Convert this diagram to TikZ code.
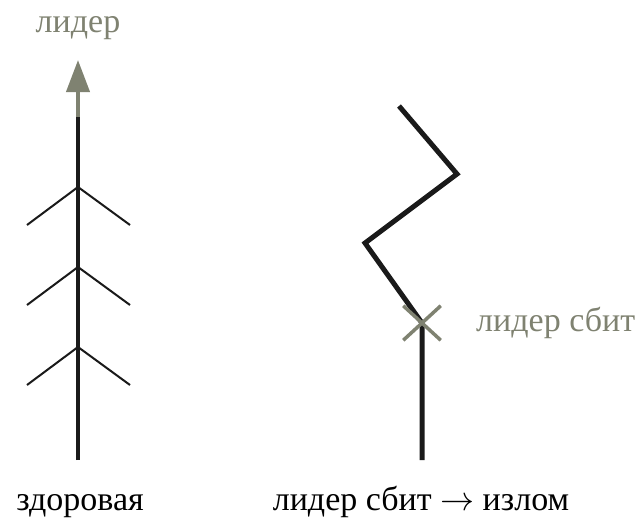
\RequirePackage{fix-cm}
\documentclass[tikz,border=0pt]{standalone}
\usepackage{fontspec}
\setmainfont{Liberation Serif}
\usetikzlibrary{arrows.meta,shapes.misc}
\definecolor{leadgray}{HTML}{7F8271}
\definecolor{ink}{HTML}{1A1A1A}
\begin{document}
\begin{tikzpicture}[x=1pt, y=-1pt,
  trunk/.style={ink, line width=4.5pt},
  twig/.style={ink, line width=2pt},
  lbl/.style={font=\fontsize{34}{38}\selectfont, inner sep=0pt}]
\useasboundingbox (0,0) rectangle (636,519);
% healthy tree
\coordinate (A0)  at (78,460);
\coordinate (A1)  at (78,117);
\coordinate (Tip) at (78,60);
\draw[trunk] (A0) -- (A1);
\draw[leadgray, line width=4pt, -{Triangle[length=32pt,width=23pt]}] (A1) -- (Tip);
\foreach \y in {187,267,347} {
  \coordinate (J\y)  at (78,\y);
  \coordinate (BL\y) at (27,\y+38);
  \coordinate (BR\y) at (130,\y+38);
  \draw[twig] (BL\y) -- (J\y) -- (BR\y);
}
% broken leader
\coordinate (B0) at (422,460);
\coordinate (K1) at (365,243);
\coordinate (K2) at (457,174);
\coordinate (K3) at (399,106);
\node[inner sep=0pt] (hit) at (422,323) {};
\draw[ink, line width=5pt] (B0) -- (hit.center) -- (K1) -- (K2) -- (K3);
\node[cross out, draw=leadgray, line width=3.5pt, minimum width=34pt,
      minimum height=31pt, inner sep=0pt] (cross) at (hit) {};
% labels
\node[lbl, leadgray, anchor=base]      (lead)   at (78,33)   {лидер};
\node[lbl, leadgray, anchor=base west] (hitlbl) at (476,331) {лидер сбит};
\node[lbl, anchor=base] (ok)  at (80,510)  {здоровая};
\node[lbl, anchor=base] (bad) at (421,510) {лидер сбит $\rightarrow$ излом};
\end{tikzpicture}
\end{document}
